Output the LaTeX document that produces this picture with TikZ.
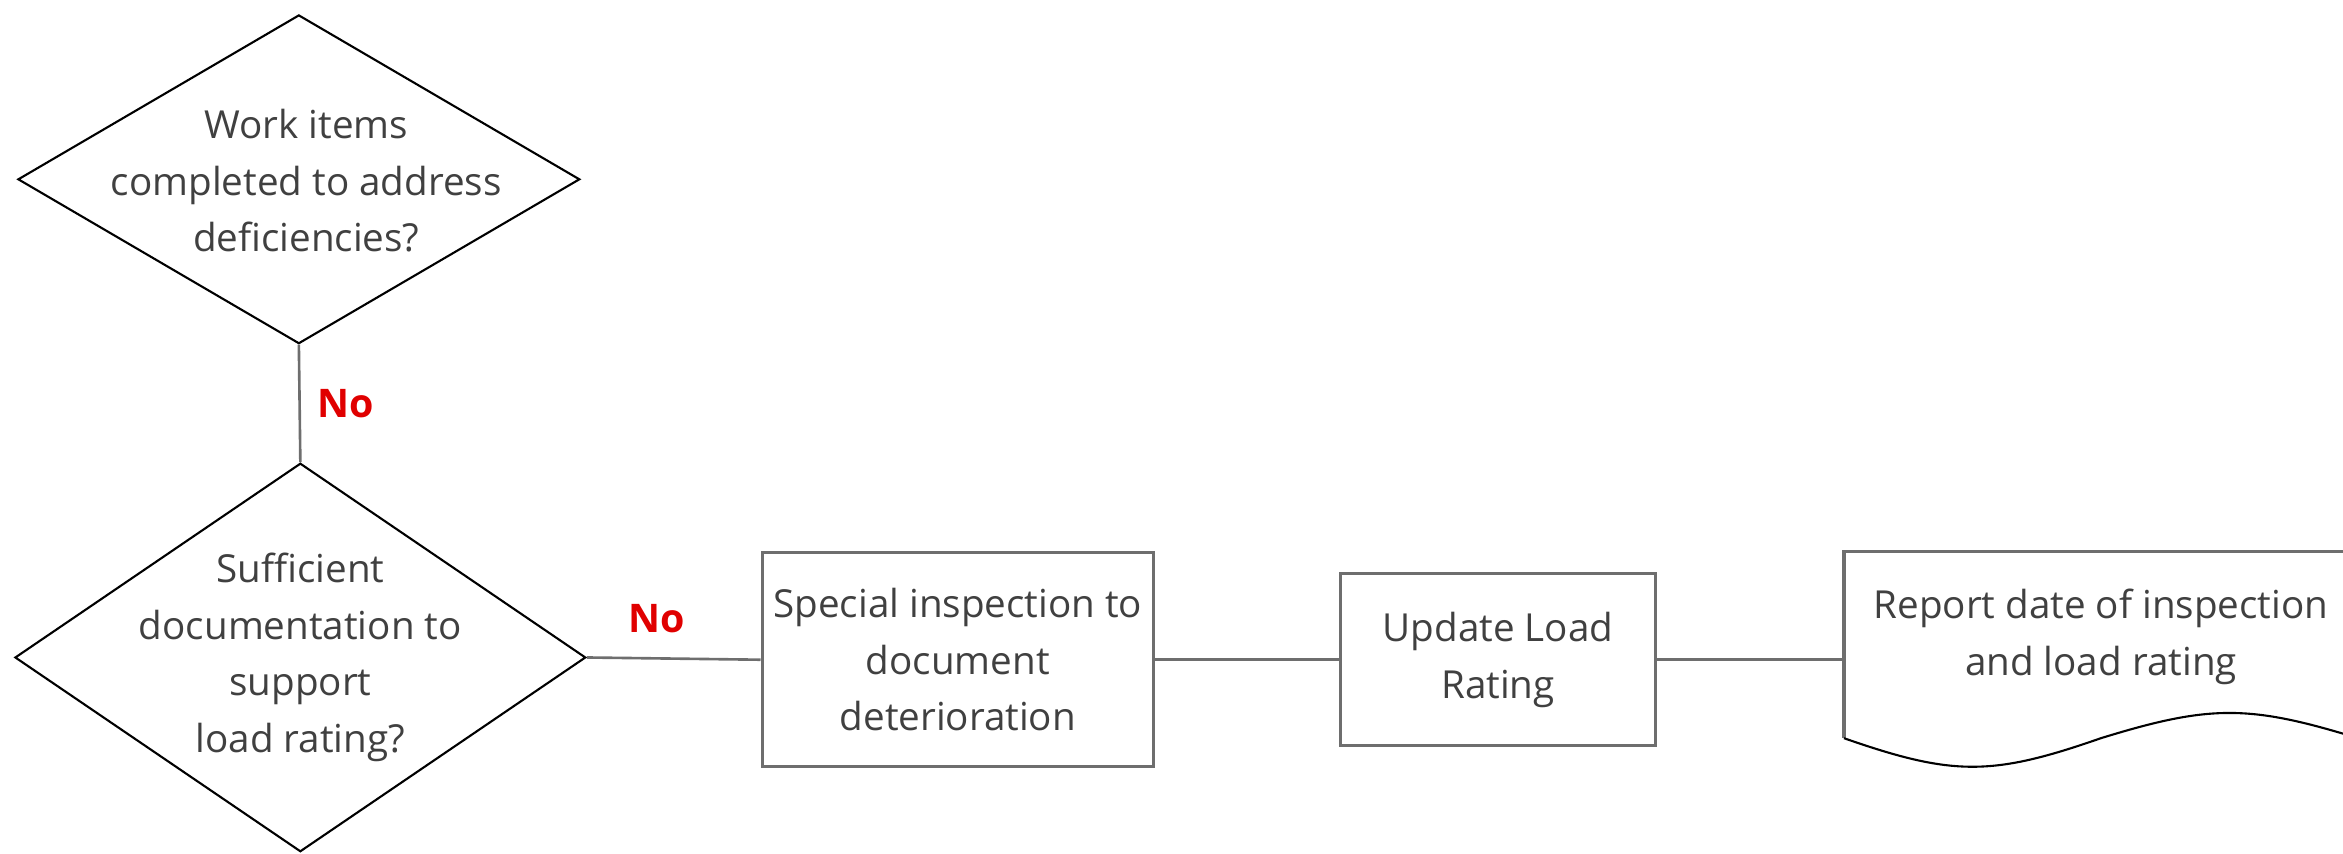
\documentclass[tikz,border=0pt]{standalone}
\usepackage{fontspec}
\setmainfont{Open Sans}
\usetikzlibrary{shapes.geometric}
\definecolor{MyGray}{HTML}{6E6E6E}
\definecolor{MyText}{HTML}{404040}
\definecolor{MyRed}{HTML}{E00000}

\begin{document}
\begin{tikzpicture}[every node/.style={font=\fontsize{14.7}{21.6}\selectfont, text=MyText, align=center},
		decision/.style={diamond, draw=black, line width=0.8pt, inner sep=0pt},
		process/.style={rectangle, draw=MyGray, line width=1.2pt},
		link/.style={draw=MyGray, line width=1pt},
		answer/.style={text=MyRed, font=\fontsize{15}{18}\selectfont\bfseries}]
			\useasboundingbox (0, 0) rectangle (31.36, 11.42);
			\clip (0, 0) rectangle (31.36, 11.42);
			
			\node[decision, minimum width=7.52cm, minimum height=4.4cm] (work) at (4, 9.02) {};
			\node (worktext) at (4.1, 9.0) {Work items\\ completed to address\\ deficiencies?};
			
			\node[decision, minimum width=7.64cm, minimum height=5.2cm] (docu) at (4.02, 2.62) {};
			\node (docutext) at (docu.center) {Sufficient\\ documentation to\\ support\\ load rating?};
			
			\node[process, minimum width=5.24cm, minimum height=2.86cm] (special) at (12.82, 2.59) {Special inspection to\\ document\\ deterioration};
			
			\node[process, minimum width=4.22cm, minimum height=2.3cm] (update) at (20.05, 2.59) {Update Load\\ Rating};
			
			\node[minimum width=6.88cm, minimum height=2.3cm] (report) at (28.12, 2.9) {Report date of inspection\\ and load rating};
			\draw[MyGray, line width=1.2pt] (31.56, 4.04) -- (24.68, 4.04) -- (24.68, 1.54);
			\draw[black, line width=0.8pt] (24.68, 1.54) .. controls (26.14, 1.03) and (26.66, 1.03) .. (28.12, 1.54)
				.. controls (29.58, 1.99) and (30.10, 1.99) .. (31.56, 1.54);
			
			\draw[link] (work.south) -- (docu.north) node [answer, midway, right, xshift=0.1cm] {No};
			\draw[link] (docu.east) -- (special.west) node [answer, pos=0.4, above, yshift=0.2cm] {No};
			\draw[link] (special.east) -- (update.west);
			\draw[link] (update.east) -- (update.east -| report.west);
		\end{tikzpicture}
\end{document}
